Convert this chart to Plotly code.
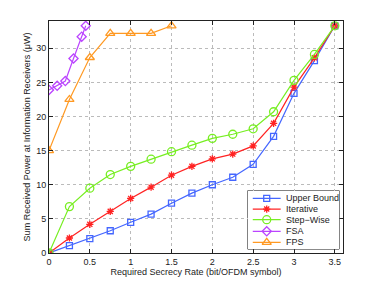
import plotly.graph_objects as go

rate = [0, 0.25, 0.5, 0.75, 1, 1.25, 1.5, 1.75, 2, 2.25, 2.5, 2.75, 3, 3.25, 3.5]
upper_bound = [0, 1.07, 2.1, 3.26, 4.5, 5.7, 7.3, 8.77, 10.0, 11.1, 13.0, 17.1, 23.4, 28.2, 33.3]
iterative = [0, 2.2, 4.2, 6.1, 8.0, 9.65, 11.4, 12.7, 13.8, 14.5, 15.7, 19.0, 24.3, 28.6, 33.3]
step_wise = [0, 6.8, 9.5, 11.5, 12.7, 13.75, 14.85, 15.8, 16.8, 17.4, 18.2, 20.7, 25.3, 29.1, 33.3]
fsa_rate = [0, 0.1, 0.2, 0.3, 0.4, 0.45]
fsa = [23.9, 24.5, 25.2, 28.5, 31.7, 33.3]
fps_rate = [0, 0.25, 0.5, 0.75, 1, 1.25, 1.5]
fps = [15.0, 22.5, 28.65, 32.2, 32.2, 32.2, 33.3]

x_ticks = [0, 0.5, 1, 1.5, 2, 2.5, 3, 3.5]
x_tick_labels = ["0", "0.5", "1", "1.5", "2", "2.5", "3", "3.5"]
y_ticks = [0, 5, 10, 15, 20, 25, 30]
y_tick_labels = ["0", "5", "10", "15", "20", "25", "30"]

series = [
    ("Upper Bound", rate, upper_bound, "#4466ff", "square-open", 6),
    ("Iterative", rate, iterative, "#ff2222", "asterisk-open", 6),
    ("Step\u2212Wise", rate, step_wise, "#77ee22", "circle-open", 8),
    ("FSA", fsa_rate, fsa, "#bb44ff", "diamond-open", 7),
    ("FPS", fps_rate, fps, "#ff9922", "triangle-up-open", 8),
]

font = "Liberation Sans, Arial, sans-serif"
fig = go.Figure()
for name, xs, ys, color, sym, size in series:
    fig.add_trace(go.Scatter(
        x=xs, y=ys, name=name, mode="lines+markers", showlegend=False,
        line=dict(color=color, width=1.2),
        marker=dict(symbol=sym, size=size, color=color, line=dict(color=color, width=1.3)),
    ))

# Compact legend drawn as an inset (plotly's own legend rows are too tall)
leg_x0, leg_x1, leg_y0, leg_y1 = 0.676, 0.987, 0.017, 0.2685
row_y = [0.87, 0.686, 0.503, 0.304, 0.115]
for (name, xs, ys, color, sym, size), ry in zip(series, row_y):
    fig.add_trace(go.Scatter(
        x=[0.055, 0.36], y=[ry, ry], mode="lines", showlegend=False, hoverinfo="skip",
        line=dict(color=color, width=1.2), xaxis="x2", yaxis="y2"))
    fig.add_trace(go.Scatter(
        x=[0.2075], y=[ry], mode="markers", showlegend=False, hoverinfo="skip",
        marker=dict(symbol=sym, size=size, color=color, line=dict(color=color, width=1.3)),
        xaxis="x2", yaxis="y2"))
    fig.add_annotation(x=0.40, y=ry, xref="x2", yref="y2", text=name, showarrow=False,
                       xanchor="left", yanchor="middle", font=dict(size=9, family=font, color="#222"))

fig.add_shape(type="rect", xref="paper", yref="paper", x0=leg_x0, x1=leg_x1, y0=leg_y0, y1=leg_y1,
              line=dict(color="#222", width=1), fillcolor="white", layer="between")

axis_common = dict(
    showline=True, linecolor="#222", linewidth=1, mirror="ticks",
    ticks="inside", ticklen=4, tickcolor="#222",
    showgrid=True, gridcolor="#bbbbbb", griddash="dot", gridwidth=1,
    zeroline=False, tickfont=dict(size=9, color="#222", family=font),
    automargin=False,
)
fig.update_layout(
    width=371, height=277,
    margin=dict(l=41, r=36, t=13, b=32),
    paper_bgcolor="white", plot_bgcolor="white",
    font=dict(family=font, size=9, color="#222"),
    xaxis=dict(range=[0, 3.6], tickvals=x_ticks, ticktext=x_tick_labels,
               title=dict(text="Required Secrecy Rate (bit/OFDM symbol)", font=dict(size=9), standoff=2),
               **axis_common),
    yaxis=dict(range=[0, 34], tickvals=y_ticks, ticktext=y_tick_labels,
               title=dict(text="Sum Received Power at Information Receivers (\u03bcW)", font=dict(size=9), standoff=4),
               **axis_common),
    xaxis2=dict(domain=[leg_x0, leg_x1], range=[0, 1], anchor="y2", visible=False, fixedrange=True),
    yaxis2=dict(domain=[leg_y0, leg_y1], range=[0, 1], anchor="x2", visible=False, fixedrange=True),
    showlegend=False,
)
fig.write_html("out.html")
